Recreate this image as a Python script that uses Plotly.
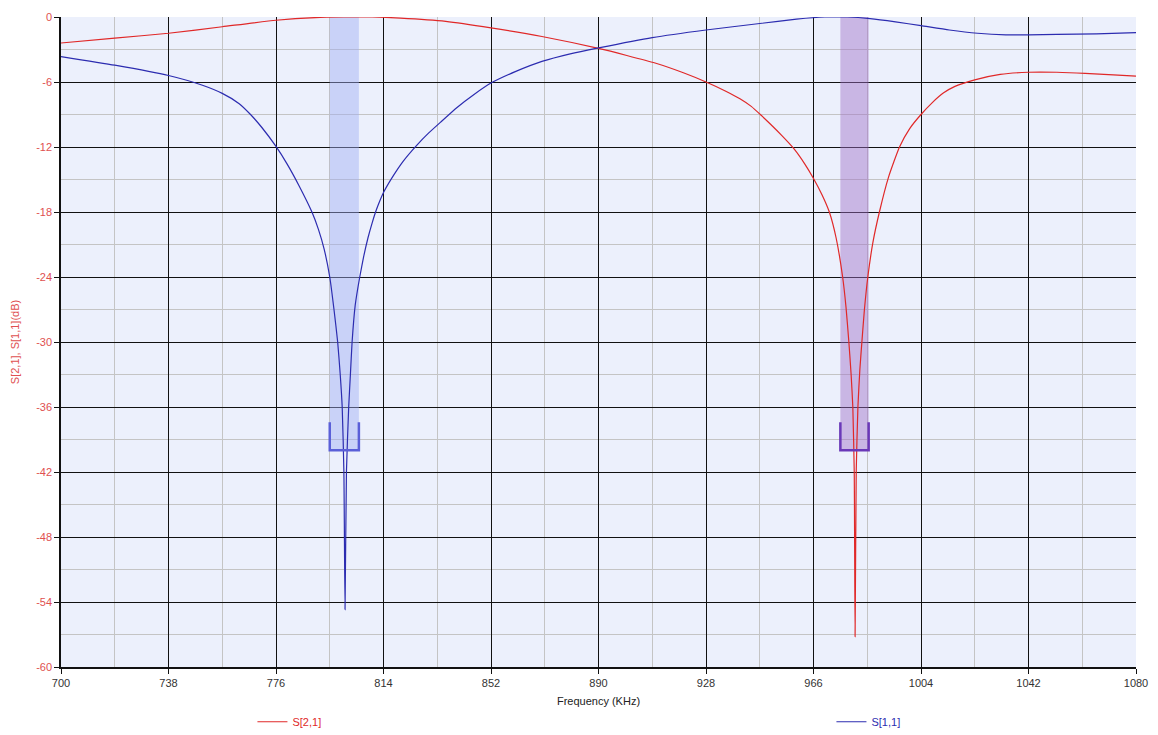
import plotly.graph_objects as go

# ---- data ----
s21_freq = [700, 719, 738, 757, 776, 790, 800, 810, 820, 836, 852, 870, 890, 900, 910, 920, 928,
            935, 940, 944, 947.4, 951, 955, 959.2, 963, 966, 969, 971.6, 974, 976.3, 977.5,
            978.5, 979.3, 979.9, 980.4, 980.7, 981.1, 981.7, 982.4, 983.1, 984, 985.2, 987,
            989.3, 992.5, 996.4, 1000, 1004, 1008, 1012, 1016, 1023, 1032, 1042, 1052, 1062,
            1072, 1080]
s21_db = [-2.4, -1.95, -1.5, -0.9, -0.3, -0.05, 0, 0, -0.1, -0.4, -1.0, -1.8, -2.9, -3.55, -4.25, -5.15, -6.0,
          -6.85, -7.55, -8.25, -9.05, -9.95, -11.0, -12.2, -13.6, -14.9, -16.4, -18.0, -20.4, -24, -26.8,
          -30, -33, -36, -42, -57.2, -42, -36, -32.5, -30, -27, -24, -20.8,
          -18, -14.8, -12, -10.3, -9, -7.9, -7.0, -6.4, -5.8, -5.3, -5.1, -5.1, -5.2,
          -5.35, -5.45]

s11_freq = [700, 719, 738, 750, 757, 763, 767, 771, 776, 780, 784, 788.7, 791, 793, 795, 796.5,
            797.8, 798.7, 799.4, 800, 800.4, 800.9, 801.7, 802.3, 802.9, 804, 805.6, 807,
            808.5, 810, 811.2, 812.5, 814, 817.6, 821, 825.9, 830, 834.2, 840, 846, 852, 861,
            870, 880, 890, 909, 928, 947, 960, 970, 978, 986, 995, 1004, 1014, 1024, 1034,
            1042, 1052, 1066, 1080]
s11_db = [-3.65, -4.45, -5.4, -6.3, -7.05, -8.0, -9.0, -10.2, -11.95, -13.6, -15.5, -18, -19.6, -21.4,
          -24, -27, -30, -33, -36, -42, -54.7, -42, -36, -33, -30, -26.6, -24, -22.1,
          -20.4, -19.0, -18.0, -17.1, -16.2, -14.6, -13.3, -11.8, -10.7, -9.7, -8.35, -7.15, -6.1, -5.0,
          -4.1, -3.4, -2.85, -1.9, -1.2, -0.6, -0.2, 0, 0, -0.15, -0.45, -0.8, -1.2, -1.5, -1.65,
          -1.65, -1.6, -1.55, -1.45]

band_lo = [795, 975.5]
band_hi = [805.3, 985.5]
bracket_top = [-37.4, -37.4]
bracket_bottom = [-40.0, -40.0]

x_ticks = [700, 738, 776, 814, 852, 890, 928, 966, 1004, 1042, 1080]
y_ticks = [0, -6, -12, -18, -24, -30, -36, -42, -48, -54, -60]

RED = "#e02828"
BLUE = "#2c2cb0"
band_fill = ["rgba(160,172,245,0.45)", "rgba(160,110,200,0.45)"]
bracket_col = ["#5a5fd8", "#6a38b8"]

fig = go.Figure()
fig.add_trace(go.Scatter(x=s21_freq, y=s21_db, mode="lines", name="S[2,1]",
                         line=dict(color=RED, width=1.2, shape="spline", smoothing=0.5),
                         legend="legend"))
fig.add_trace(go.Scatter(x=s11_freq, y=s11_db, mode="lines", name="S[1,1]",
                         line=dict(color=BLUE, width=1.2, shape="spline", smoothing=0.5),
                         legend="legend2"))

shapes = []
for i in range(len(band_lo)):
    shapes.append(dict(type="rect", xref="x", yref="y", x0=band_lo[i], x1=band_hi[i],
                       y0=bracket_bottom[i], y1=0, fillcolor=band_fill[i],
                       line=dict(width=0), layer="between"))
    shapes.append(dict(type="path", xref="x", yref="y",
                       path=f"M {band_lo[i]},{bracket_top[i]} L {band_lo[i]},{bracket_bottom[i]} "
                            f"L {band_hi[i]},{bracket_bottom[i]} L {band_hi[i]},{bracket_top[i]}",
                       line=dict(color=bracket_col[i], width=2.5), layer="above"))

fig.update_layout(
    width=1158, height=735,
    margin=dict(l=61, r=22, t=17, b=68, autoexpand=False),
    paper_bgcolor="white",
    plot_bgcolor="#ecf0fc",
    font=dict(family="Liberation Sans, Arial, sans-serif", size=11, color="#333333"),
    shapes=shapes,
    showlegend=True,
    legend=dict(orientation="h", xref="container", yref="container",
                x=0.218, y=0.018, xanchor="left", yanchor="middle",
                font=dict(color=RED, size=11), bgcolor="rgba(0,0,0,0)"),
    legend2=dict(orientation="h", xref="container", yref="container",
                 x=0.718, y=0.018, xanchor="left", yanchor="middle",
                 font=dict(color=BLUE, size=11), bgcolor="rgba(0,0,0,0)"),
)

fig.update_xaxes(
    range=[700, 1080], tickvals=x_ticks, ticktext=[str(v) for v in x_ticks],
    showgrid=True, gridcolor="#111111", gridwidth=1,
    minor=dict(dtick=19, tick0=700, showgrid=True, gridcolor="#c4c4c4", gridwidth=1),
    showline=True, linecolor="#111111", linewidth=1.5,
    ticks="outside", ticklen=5, tickcolor="#111111",
    tickfont=dict(color="#333333", size=11),
    title=dict(text="Frequency (KHz)", font=dict(color="#222222", size=11), standoff=20),
    zeroline=False, automargin=False,
)
fig.update_yaxes(
    range=[-60, 0], tickvals=y_ticks, ticktext=[str(v) for v in y_ticks],
    showgrid=True, gridcolor="#111111", gridwidth=1,
    minor=dict(dtick=3, tick0=0, showgrid=True, gridcolor="#c4c4c4", gridwidth=1),
    showline=True, linecolor="#111111", linewidth=1.5,
    ticks="outside", ticklen=5, tickcolor="#111111",
    tickfont=dict(color="#e05050", size=11),
    title=dict(text="S[2,1], S[1,1](dB)", font=dict(color="#e05050", size=11), standoff=14),
    zeroline=False, automargin=False,
)

fig.write_html("out.html", config={"displayModeBar": False},
               post_script="document.body.style.margin='0';")
